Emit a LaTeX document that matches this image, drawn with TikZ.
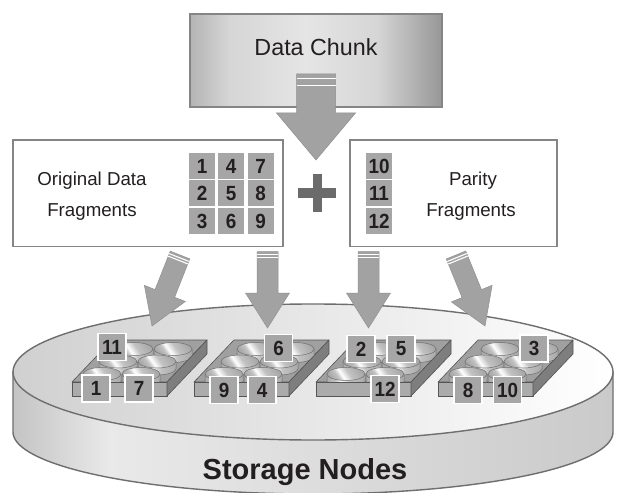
\documentclass[tikz,border=0pt]{standalone}
\usepackage{fontspec}
\setmainfont{Liberation Sans}
\newfontfamily\digitfam{Liberation Sans}[FakeStretch=0.92]
\usetikzlibrary{calc}
\definecolor{txt}{HTML}{231F20}
\definecolor{cell}{HTML}{A6A6A6}
\definecolor{boxline}{HTML}{858585}
\definecolor{arrowc}{HTML}{A2A2A2}
\definecolor{arrowline}{HTML}{909090}
\definecolor{plusc}{HTML}{6B6B6B}
\definecolor{diskline}{HTML}{6E6E6E}
\definecolor{disktopL}{HTML}{D0D0D0}
\definecolor{traytop}{HTML}{A0A0A0}
\definecolor{trayfront}{HTML}{ABABAB}
\definecolor{trayside}{HTML}{7E7E7E}
\definecolor{trayline}{HTML}{555555}
\definecolor{cupline}{HTML}{6E6E6E}
\definecolor{metalA}{HTML}{A9A9A9}
\definecolor{metalB}{HTML}{C2C2C2}
\definecolor{chA}{HTML}{B4B4B4}
\definecolor{chB}{HTML}{D6D6D6}
\definecolor{chC}{HTML}{E5E5E5}
\definecolor{chD}{HTML}{D6D6D6}
\definecolor{chE}{HTML}{979797}
\definecolor{dsA}{HTML}{C4C4C4}
\definecolor{dsB}{HTML}{E9E9E9}
\definecolor{dsC}{HTML}{DDDDDD}
\definecolor{dsD}{HTML}{CACACA}
\pgfdeclarehorizontalshading{chunkshade}{100bp}{color(0bp)=(chA); color(25bp)=(chA); color(33bp)=(chB); color(48bp)=(chC); color(62bp)=(chD); color(75bp)=(chE); color(100bp)=(chE)}
\pgfdeclarehorizontalshading{diskside}{100bp}{color(0bp)=(dsA); color(25bp)=(dsA); color(33bp)=(dsB); color(50bp)=(dsC); color(75bp)=(dsD); color(100bp)=(dsD)}
\pgfdeclarehorizontalshading{metal}{100bp}{color(0bp)=(metalA); color(25bp)=(metalA); color(36bp)=(metalB); color(43bp)=(white); color(55bp)=(metalB); color(75bp)=(metalA); color(100bp)=(metalA)}
\newcommand{\digitfont}{\digitfam\fontsize{20.5bp}{20.5bp}\selectfont\bfseries}
\newcommand{\labelfont}{\fontsize{18.7bp}{22bp}\selectfont}
\newcommand{\FatArrowDraw}[7]{%
  \coordinate (fa-b) at ($(#2)!#5!(#1)$);
  \filldraw[fatarrowstyle] ($(#1)!#3!90:(#2)$) -- ($(fa-b)!#3!90:(#2)$) -- ($(fa-b)!#4!90:(#2)$) -- (#2)
    -- ($(fa-b)!#4!-90:(#2)$) -- ($(fa-b)!#3!-90:(#2)$) -- ($(#1)!#3!-90:(#2)$) -- cycle;
  \coordinate (fa-s1) at ($(#1)!#6!(#2)$);
  \coordinate (fa-s2) at ($(#1)!#7!(#2)$);
  \draw[stripe] ($(fa-s1)!#3!90:(#2)$) -- ($(fa-s1)!#3!-90:(#2)$);
  \draw[stripe] ($(fa-s2)!#3!90:(#2)$) -- ($(fa-s2)!#3!-90:(#2)$);
}
\begin{document}
\begin{tikzpicture}[x=1bp,y=-1bp,
  fragcell/.style={fill=cell, minimum width=26bp, minimum height=26bp, inner sep=0pt, font=\digitfont, text=txt},
  traylabel/.style={fill=cell, draw=white, line width=1.6bp, minimum width=28bp, minimum height=27bp, inner sep=0pt, font=\digitfont, text=txt},
  whitebox/.style={draw=boxline, line width=1.8bp, fill=white, inner sep=0pt},
  plaintext/.style={font=\labelfont, text=txt, anchor=base, inner sep=0pt},
  fatarrowstyle/.style={fill=arrowc, draw=arrowline, line width=0.5bp, line join=miter},
  stripe/.style={draw=white, line width=1.1bp},
  trayedge/.style={draw=trayline, line width=0.6bp, line join=round},
  cupedge/.style={draw=cupline, line width=0.5bp}]
\useasboundingbox (0,0) rectangle (618,493);
\fill[white] (0,0) rectangle (618,493);

% ---- storage disk ----
\shadedraw[shading=diskside, draw=diskline, line width=1.4bp]
  (13,372) -- (13,432) -- plot[domain=180:360, samples=120, variable=\t] ({313+300*cos(\t)},{432-62*sin(\t)}) -- (613,372) -- cycle;
\shadedraw[left color=disktopL, right color=white, draw=diskline, line width=1.4bp]
  (313,372) ellipse[x radius=300, y radius=68];
\node[font=\fontsize{29bp}{32bp}\selectfont\bfseries, text=txt, anchor=base, inner sep=0pt] (storage) at (305,479) {Storage Nodes};

% ---- trays with wells ----
\foreach \fl in {72,194,316,438}{
  \filldraw[trayedge, fill=traytop] (\fl,382) -- (\fl+95,382) -- (\fl+135,340) -- (\fl+40,340) -- cycle;
  \foreach \r in {2,1,0}{
    \foreach \c in {0,1}{
      \pgfmathsetmacro{\cx}{\fl+30+16*\r+39*\c}
      \pgfmathsetmacro{\cy}{374-12.5*\r}
      \shadedraw[cupedge, shading=metal]
        (\cx-19,\cy) -- (\cx-19,\cy+7) -- plot[domain=180:360, samples=30, variable=\t] ({\cx+19*cos(\t)},{\cy+7-6.5*sin(\t)}) -- (\cx+19,\cy) -- cycle;
      \shadedraw[cupedge, shading=metal, shading angle=35] (\cx,\cy) ellipse[x radius=19, y radius=6.5];
    }
  }
  \filldraw[trayedge, fill=trayfront] (\fl,382) rectangle (\fl+95,396);
  \filldraw[trayedge, fill=trayside] (\fl+95,382) -- (\fl+135,340) -- (\fl+135,354) -- (\fl+95,396) -- cycle;
}

% ---- boxes ----
\node[draw=boxline, line width=1.8bp, shade, shading=chunkshade, minimum width=252bp, minimum height=93bp, inner sep=0pt] (chunk) at (316,60.5) {};
\node[font=\fontsize{23.3bp}{26bp}\selectfont, text=txt, anchor=base, inner sep=0pt] (chunktext) at (316,56) {Data Chunk};

\node[whitebox, minimum width=270bp, minimum height=106.5bp] (orig) at (148,193.25) {};
\node[whitebox, minimum width=207bp, minimum height=106.5bp] (parity) at (453.5,193.25) {};

\node[plaintext] (origA) at (92,185.5) {Original Data};
\node[plaintext] (origB) at (92,216.5) {Fragments};
\node[plaintext] (parA) at (473,186) {Parity};
\node[plaintext] (parB) at (471,217) {Fragments};

\node[fragcell] (c1) at (202,166) {1};
\node[fragcell] (c4) at (231,166) {4};
\node[fragcell] (c7) at (260.5,166) {7};
\node[fragcell] (c2) at (202,193.5) {2};
\node[fragcell] (c5) at (231,193.5) {5};
\node[fragcell] (c8) at (260.5,193.5) {8};
\node[fragcell] (c3) at (202,221) {3};
\node[fragcell] (c6) at (231,221) {6};
\node[fragcell] (c9) at (260.5,221) {9};
\node[fragcell] (p10) at (379,166) {10};
\node[fragcell] (p11) at (379,193.5) {11};
\node[fragcell] (p12) at (379,221) {12};

% plus sign
\fill[plusc] (298,188.5) rectangle (336,198.5);
\fill[plusc] (312.5,174.5) rectangle (321.5,212.5);

% ---- arrows ----
\coordinate (a0s) at (316,74);
\coordinate (a0e) at (316,160);
\FatArrowDraw{a0s}{a0e}{19.5bp}{39.5bp}{47bp}{4.3bp}{11.7bp}

\coordinate (a1s) at (180,255);
\coordinate (a1e) at (152,326);
\coordinate (a2s) at (267.5,251.7);
\coordinate (a2e) at (267.5,328);
\coordinate (a3s) at (368.5,251.7);
\coordinate (a3e) at (368.5,328);
\coordinate (a4s) at (456,255);
\coordinate (a4e) at (485,326);
\FatArrowDraw{a1s}{a1e}{10.5bp}{22bp}{35bp}{2.7bp}{5.4bp}
\FatArrowDraw{a2s}{a2e}{10.5bp}{22bp}{35bp}{2.7bp}{5.4bp}
\FatArrowDraw{a3s}{a3e}{10.5bp}{22bp}{35bp}{2.7bp}{5.4bp}
\FatArrowDraw{a4s}{a4e}{10.5bp}{22bp}{35bp}{2.7bp}{5.4bp}

% ---- tray labels ----
\node[traylabel] (t11) at (112,347) {11};
\node[traylabel] (t1) at (96,388.5) {1};
\node[traylabel] (t7) at (139,388.5) {7};
\node[traylabel] (t6) at (278.5,348) {6};
\node[traylabel] (t9) at (224,390) {9};
\node[traylabel] (t4) at (262,390) {4};
\node[traylabel] (t2) at (361,349) {2};
\node[traylabel] (t5) at (401,349) {5};
\node[traylabel] (t12) at (385,389) {12};
\node[traylabel] (t3) at (534,348.5) {3};
\node[traylabel] (t8) at (468,390) {8};
\node[traylabel] (t10) at (507.5,390) {10};
\end{tikzpicture}
\end{document}
